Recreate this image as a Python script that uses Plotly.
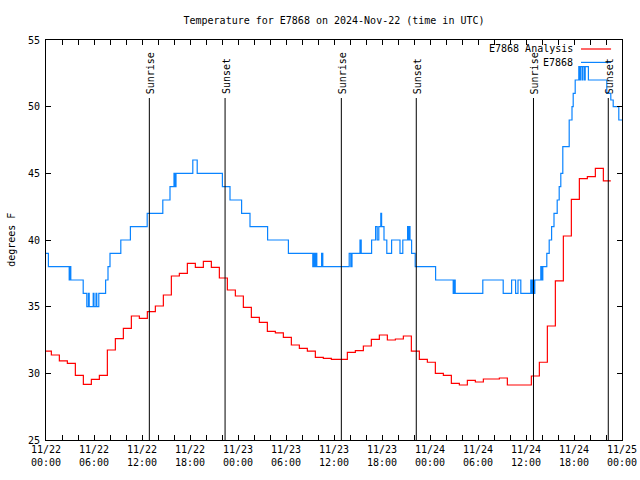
import pandas as pd
import plotly.graph_objects as go

# ---------------- data ----------------
start_time = "2024-11-22 00:00"
end_time = "2024-11-25 00:00"

# Station observations (E7868): hour offsets from start, degrees F
obs_hours = [0, 0.3, 2.9, 3.0, 3.1, 4.65, 5.1, 5.3, 5.4, 5.9, 6.0, 6.25, 6.35, 6.6,
             7.45, 7.75, 8.0, 9.35, 10.55, 12.65, 14.6, 15.5, 16.0, 16.1, 16.25,
             18.35, 18.9, 22.05, 23.0, 24.45, 25.5, 27.7, 30.3, 33.35, 33.5, 33.6,
             33.75, 33.85, 34.45, 34.6, 37.9, 38.1, 38.25, 39.25, 39.4, 40.7, 41.2,
             41.4, 41.6, 41.85, 41.95, 42.25, 42.6, 43.2, 44.25, 44.6, 45.2, 45.3,
             45.35, 45.5, 45.7, 46.15, 48.7, 50.9, 51.0, 51.15, 54.6, 57.15, 58.2,
             58.7, 59.0, 59.35, 60.6, 60.7, 60.85, 60.95, 61.1, 61.85, 62.0, 62.1,
             62.6, 62.9, 63.2, 63.5, 63.9, 64.15, 64.35, 64.6, 65.4, 65.75, 65.9,
             66.15, 66.6, 66.7, 66.8, 67.0, 67.1, 67.3, 67.4, 67.8, 70.1, 70.6,
             70.9, 71.6, 72.0]
obs_temps = [39, 38, 37, 38, 37, 36, 35, 36, 35, 36, 35, 36, 35, 36,
             37, 38, 39, 40, 41, 42, 43, 44, 45, 44, 45,
             46, 45, 44, 43, 42, 41, 40, 39, 38, 39, 38,
             39, 38, 39, 38, 39, 38, 39, 40, 39, 40, 41,
             40, 41, 42, 41, 40, 39, 40, 39, 40, 41, 40,
             41, 40, 39, 38, 37, 36, 37, 36, 37, 36, 37,
             36, 37, 36, 37, 36, 37, 36, 37, 38, 37, 38,
             39, 40, 41, 42, 43, 44, 45, 47, 49, 50, 51,
             52, 53, 52, 53, 52, 53, 52, 53, 52, 51, 50.5,
             50, 49, 49]

# Analysis (E7868 Analysis): hour offsets from start, degrees F
ana_hours = [0, 0.67, 1.67, 2.67, 3.67, 4.67, 5.67, 6.67, 7.67, 8.67, 9.67, 10.67,
             11.67, 12.67, 13.67, 14.67, 15.67, 16.67, 17.67, 18.67, 19.67, 20.67,
             21.67, 22.67, 23.67, 24.67, 25.67, 26.67, 27.67, 28.67, 29.67, 30.67,
             31.67, 32.67, 33.67, 34.67, 35.67, 36.67, 37.67, 38.67, 39.67, 40.67,
             41.67, 42.67, 43.67, 44.67, 45.67, 46.67, 47.67, 48.67, 49.67, 50.67,
             51.67, 52.67, 53.67, 54.67, 55.67, 56.67, 57.67, 58.67, 59.67, 60.67,
             61.67, 62.67, 63.67, 64.67, 65.67, 66.67, 67.67, 68.67, 69.67, 70.6]
ana_temps = [31.67, 31.375, 30.93, 30.75, 29.85, 29.17, 29.55, 29.85, 31.75, 32.6,
             33.375, 34.3, 34.125, 34.625, 35.05, 35.875, 37.3, 37.5, 38.25, 37.95,
             38.4, 37.95, 37.15, 36.25, 35.8, 34.95, 34.2, 33.825, 33.15, 33.03,
             32.7, 32.125, 31.875, 31.67, 31.2, 31.125, 31.05, 31.05, 31.575, 31.7,
             32.05, 32.55, 32.875, 32.5, 32.575, 32.8, 31.67, 31.05, 30.83, 30.0,
             29.85, 29.25, 29.125, 29.47, 29.35, 29.575, 29.575, 29.65, 29.125,
             29.125, 29.125, 29.8, 30.83, 33.55, 36.93, 40.3, 43.05, 44.6, 44.75,
             45.375, 44.43, 44.43]

sunrise_times = ["2024-11-22 12:55", "2024-11-23 12:55", "2024-11-24 12:56"]
sunset_times = ["2024-11-22 22:23", "2024-11-23 22:17", "2024-11-24 22:17"]

tick_hours = [0, 6, 12, 18, 24, 30, 36, 42, 48, 54, 60, 66, 72]
tick_labels = ["11/22<br>00:00", "11/22<br>06:00", "11/22<br>12:00", "11/22<br>18:00",
               "11/23<br>00:00", "11/23<br>06:00", "11/23<br>12:00", "11/23<br>18:00",
               "11/24<br>00:00", "11/24<br>06:00", "11/24<br>12:00", "11/24<br>18:00",
               "11/25<br>00:00"]

series_names = ["E7868 Analysis", "E7868"]
series_colors = ["#ff0000", "#0a84ff"]

title_text = "Temperature for E7868 on 2024-Nov-22 (time in UTC)"
y_title = "degrees F"
y_range = [25, 55]
marker_top = 50.65

# ---------------- figure ----------------
base = pd.Timestamp(start_time)


def to_times(hours):
    return [base + pd.Timedelta(hours=h) for h in hours]


FONT = "DejaVu Sans Mono"

fig = go.Figure()
fig.add_trace(go.Scatter(x=to_times(ana_hours), y=ana_temps, mode="lines",
                         line=dict(color=series_colors[0], width=1.2, shape="hv"),
                         name=series_names[0], showlegend=False))
fig.add_trace(go.Scatter(x=to_times(obs_hours), y=obs_temps, mode="lines",
                         line=dict(color=series_colors[1], width=1.2, shape="hv"),
                         name=series_names[1], showlegend=False))

for label, times in (("Sunrise", sunrise_times), ("Sunset", sunset_times)):
    for t in times:
        fig.add_shape(type="line", xref="x", yref="y", x0=t, x1=t,
                      y0=y_range[0], y1=marker_top,
                      line=dict(color="black", width=1))
        fig.add_annotation(x=t, y=marker_top, xref="x", yref="y", text=label,
                           textangle=-90, showarrow=False, xanchor="center",
                           yanchor="bottom", yshift=2, xshift=1,
                           font=dict(family=FONT, size=10, color="black"))

# legend drawn gnuplot-style: text right, sample line after
legend_rows = [0.9775, 0.944]
for name, color, yy in zip(series_names, series_colors, legend_rows):
    fig.add_annotation(x=0.9185, y=yy, xref="paper", yref="paper", text=name,
                       showarrow=False, xanchor="right", yanchor="middle",
                       font=dict(family=FONT, size=10, color="black"))
    fig.add_shape(type="line", xref="paper", yref="paper", x0=0.9288, x1=0.981,
                  y0=yy, y1=yy, line=dict(color=color, width=1.2))

fig.add_annotation(x=-0.061, y=0.5, xref="paper", yref="paper", text=y_title,
                   textangle=-90, showarrow=False, xanchor="center", yanchor="middle",
                   font=dict(family=FONT, size=10, color="black"))

fig.update_layout(
    width=640, height=480,
    margin=dict(l=46, r=18, t=40, b=40, autoexpand=False),
    paper_bgcolor="white", plot_bgcolor="white",
    font=dict(family=FONT, size=10, color="black"),
    title=dict(text=title_text, x=0.5, xref="paper", y=1 - 20 / 480,
               yref="container", yanchor="middle",
               font=dict(family=FONT, size=10, color="black")),
    showlegend=False,
)

fig.update_xaxes(
    type="date", range=[start_time, end_time],
    tickmode="array", tickvals=to_times(tick_hours), ticktext=tick_labels,
    ticks="inside", ticklen=5, tickcolor="black", tickwidth=1,
    minor=dict(tickmode="linear", tick0=start_time, dtick=2 * 3600 * 1000,
               ticks="inside", ticklen=5, tickcolor="black", tickwidth=1),
    showline=True, linecolor="black", linewidth=1, mirror="allticks",
    showgrid=False, zeroline=False, ticklabeloverflow="allow",
    tickfont=dict(family=FONT, size=10, color="black"),
)
fig.update_yaxes(
    range=y_range, tickmode="linear", tick0=25, dtick=5,
    ticks="inside", ticklen=5, tickcolor="black", tickwidth=1,
    showline=True, linecolor="black", linewidth=1, mirror="allticks",
    showgrid=False, zeroline=False, ticklabelstandoff=3,
    tickfont=dict(family=FONT, size=10, color="black"),
)

fig.write_html(
    "out.html",
    config={"displayModeBar": False},
    post_script="document.body.style.margin='0';document.body.style.overflow='hidden';",
)
